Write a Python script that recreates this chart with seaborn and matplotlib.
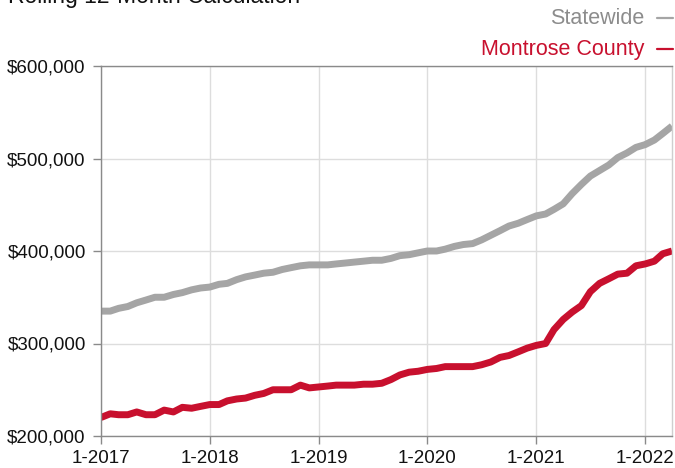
import numpy as np
import matplotlib
matplotlib.use("Agg")
import matplotlib.pyplot as plt
import matplotlib.dates as mdates
from matplotlib.lines import Line2D
import pandas as pd
import seaborn as sns

# monthly rolling 12-month median price, Jan 2017 .. Apr 2022 (values in $1000)
months = pd.date_range("2017-01-01", "2022-04-01", freq="MS")
statewide = [335, 335, 338, 340, 344, 347, 350, 350, 353, 355, 358, 360,
             361, 364, 365, 369, 372, 374, 376, 377, 380, 382, 384, 385,
             385, 385, 386, 387, 388, 389, 390, 390, 392, 395, 396, 398,
             400, 400, 402, 405, 407, 408, 412, 417, 422, 427, 430, 434,
             438, 440, 445, 451, 462, 472, 481, 487, 493, 501, 506, 512,
             515, 520, 527, 535]
montrose = [220, 224, 223, 223, 226, 223, 223, 228, 226, 231, 230, 232,
            234, 234, 238, 240, 241, 244, 246, 250, 250, 250, 255, 252,
            253, 254, 255, 255, 255, 256, 256, 257, 261, 266, 269, 270,
            272, 273, 275, 275, 275, 275, 277, 280, 285, 287, 291, 295,
            298, 300, 315, 326, 334, 341, 356, 365, 370, 375, 376, 384,
            386, 389, 397, 400]
series_names = ["Statewide", "Montrose County"]
colors = {"Statewide": "#a5a5a5", "Montrose County": "#c8102e"}
label_colors = {"Statewide": "#8c8c8c", "Montrose County": "#c8102e"}

df = pd.concat([
    pd.DataFrame({"date": months, "price": np.array(statewide) * 1000, "series": "Statewide"}),
    pd.DataFrame({"date": months, "price": np.array(montrose) * 1000, "series": "Montrose County"}),
])

sns.set_style("white")
plt.rcParams["font.family"] = ["Liberation Sans", "DejaVu Sans"]

fig = plt.figure(figsize=(6.75, 4.68), dpi=100)
ax = fig.add_axes([101 / 675, 1 - 436 / 468, 571 / 675, 370 / 468])

sns.lineplot(data=df, x="date", y="price", hue="series", hue_order=series_names,
             palette=colors, linewidth=5, legend=False, ax=ax,
             solid_capstyle="butt")

ax.set_xlim(months[0], months[-1])
ax.set_ylim(200000, 600000)
ax.set_yticks([200000, 300000, 400000, 500000, 600000])
ax.yaxis.set_major_formatter(matplotlib.ticker.FuncFormatter(lambda v, p: f"${v:,.0f}"))
ax.set_xticks(pd.date_range("2017-01-01", "2022-01-01", freq="YS"))
ax.xaxis.set_major_formatter(mdates.DateFormatter("1-%Y"))
ax.set_xlabel("")
ax.set_ylabel("")

ax.grid(True, color="#dddddd", linewidth=1)
ax.set_axisbelow(True)
for side in ["left", "top", "bottom"]:
    ax.spines[side].set_color("#8a8a8a")
    ax.spines[side].set_linewidth(1)
ax.spines["right"].set_color("#cfcfcf")
ax.spines["right"].set_linewidth(1)
ax.tick_params(axis="both", which="both", length=6, width=1, color="#8a8a8a",
               labelsize=13.5, labelcolor="#111111")
ax.tick_params(axis="y", pad=5, left=True)
ax.tick_params(axis="x", pad=4, bottom=True)

# title cut off at the top edge
fig.text(8 / 675, 1 - 3 / 468, "Rolling 12-Month Calculation", fontsize=16.5,
         color="#111111", ha="left", va="baseline")

# legend in the top right corner
for name, yc in zip(series_names, [18, 49]):
    fig.text(644 / 675, 1 - yc / 468, name, fontsize=15.5, color=label_colors[name],
             ha="right", va="center")
    fig.add_artist(Line2D([657 / 675, 673 / 675], [1 - yc / 468, 1 - yc / 468],
                          transform=fig.transFigure, color=colors[name], linewidth=1.6))

fig.savefig("out.png", dpi=100)
